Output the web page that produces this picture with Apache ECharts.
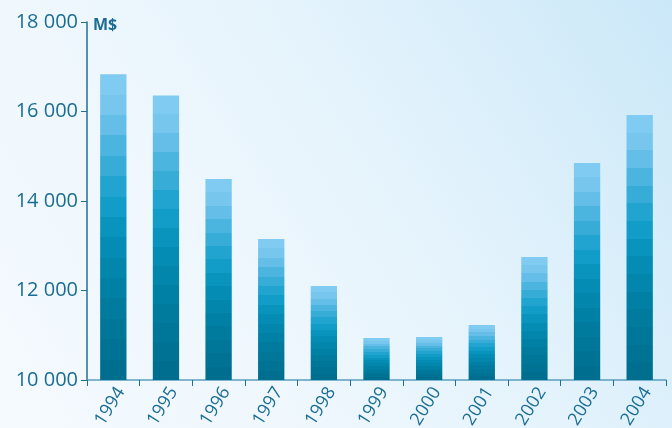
<!DOCTYPE html>
<html>
<head>
<meta charset="utf-8">
<script src="https://cdn.jsdelivr.net/npm/echarts@6/dist/echarts.min.js"></script>
<style>
  html, body { margin: 0; padding: 0; }
  #chart { width: 672px; height: 428px; }
</style>
</head>
<body>
<div id="chart"></div>
<script>
// data
const years = ['1994', '1995', '1996', '1997', '1998', '1999', '2000', '2001', '2002', '2003', '2004'];
const values = [16830, 16360, 14490, 13150, 12100, 10940, 10960, 11230, 12750, 14850, 15920];
const yTicks = [10000, 12000, 14000, 16000, 18000];

// stepped blue gradient, light on top, dark teal at the bottom
const bandColors = [
  '#80cbf2', '#76c6ee', '#64bee7', '#4cb5df', '#36acd7', '#22a4d0', '#129cc8',
  '#0994be', '#048cb4', '#0286ac', '#0080a5', '#007b9e', '#007698', '#007293', '#006f8f'
];
const stops = [];
bandColors.forEach((c, i) => {
  stops.push({ offset: i / bandColors.length, color: c });
  stops.push({ offset: (i + 1) / bandColors.length, color: c });
});

const chart = echarts.init(document.getElementById('chart'));
chart.setOption({
  backgroundColor: new echarts.graphic.LinearGradient(0, 1, 1, 0, [
    { offset: 0, color: '#f5fafe' },
    { offset: 0.35, color: '#eef7fd' },
    { offset: 0.6, color: '#e4f3fc' },
    { offset: 1, color: '#cbe8f8' },
  ]),
  textStyle: { fontFamily: 'Open Sans' },
  title: {
    text: 'M$',
    left: 88,
    top: 12,
    textStyle: { color: '#1b6d93', fontSize: 16, fontWeight: 'bold', fontFamily: 'Open Sans' },
  },
  grid: { left: 87, right: 6, top: 22, bottom: 48, outerBoundsMode: 'none', containLabel: false },
  xAxis: {
    type: 'category',
    data: years,
    axisLine: { lineStyle: { color: '#5b9ebd', width: 1.5 } },
    axisTick: { show: true, length: 6, lineStyle: { color: '#1f6f93' } },
    axisLabel: {
      color: '#1b6d93',
      fontSize: 18,
      rotate: 58,
      margin: 4,
      verticalAlign: 'top',
    },
  },
  yAxis: {
    type: 'value',
    min: 10000,
    max: 18000,
    interval: 2000,
    axisLine: { show: true, lineStyle: { color: '#1f6f93', width: 1.5 } },
    axisTick: { show: true, length: 6, lineStyle: { color: '#1f6f93' } },
    splitLine: { show: false },
    axisLabel: {
      color: '#1b6d93',
      fontSize: 20,
      margin: 9,
      formatter: (v) => (yTicks.includes(v) ? String(v).replace(/(\d+)(\d{3})$/, '$1 $2') : ''),
    },
  },
  series: [
    {
      type: 'bar',
      data: values,
      barWidth: '50%',
      itemStyle: {
        color: new echarts.graphic.LinearGradient(0, 0, 0, 1, stops),
      },
    },
  ],
});
</script>
</body>
</html>
